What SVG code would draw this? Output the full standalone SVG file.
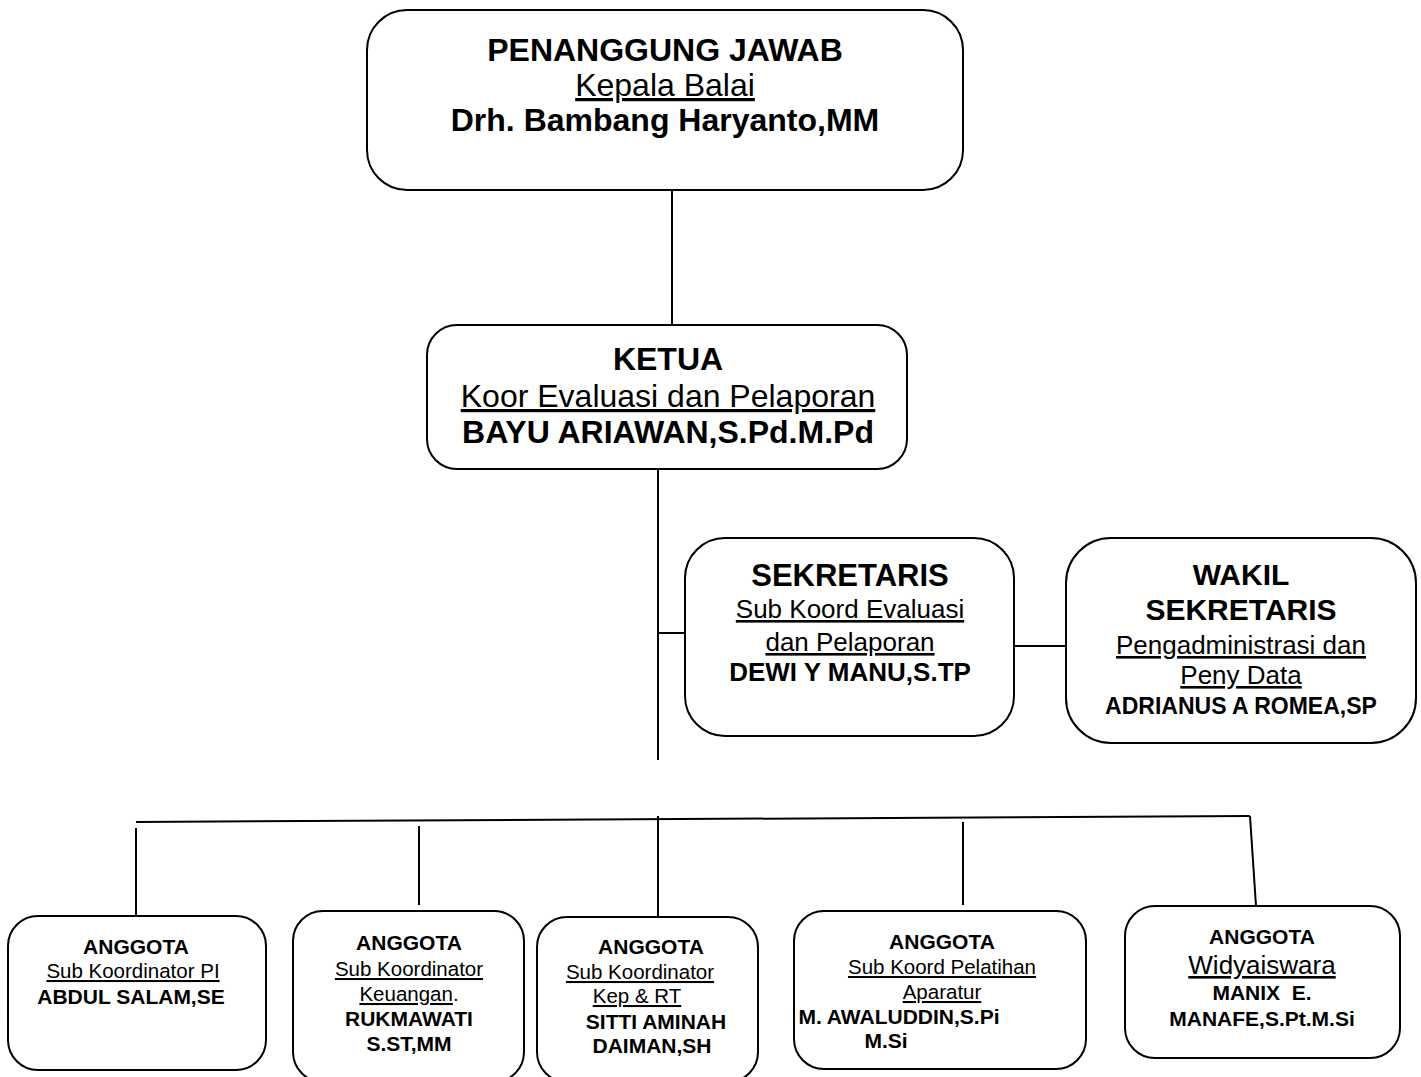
<svg xmlns="http://www.w3.org/2000/svg" width="1421" height="1077" viewBox="0 0 1421 1077">
<style>
.box{fill:#fff;stroke:#000;stroke-width:2}
.ln{stroke:#000;stroke-width:2;fill:none}
text{font-family:"Liberation Sans",Arial,sans-serif;fill:#000;text-anchor:middle}
.b{font-weight:bold}
.u{text-decoration:underline}
</style>
<rect width="1421" height="1077" fill="#fff"/>
<g id="connectors">
<line class="ln" x1="672" y1="190" x2="672" y2="325"/>
<line class="ln" x1="658" y1="469" x2="658" y2="760"/>
<line class="ln" x1="658" y1="633" x2="685" y2="633"/>
<line class="ln" x1="1014" y1="646" x2="1066" y2="646"/>
<line class="ln" x1="136" y1="822" x2="1250" y2="816"/>
<line class="ln" x1="136" y1="828" x2="136" y2="916"/>
<line class="ln" x1="419" y1="826" x2="419" y2="905"/>
<line class="ln" x1="658" y1="816" x2="658" y2="917"/>
<line class="ln" x1="963" y1="822" x2="963" y2="905"/>
<line class="ln" x1="1250" y1="816" x2="1256" y2="906"/>
</g>
<g id="penanggung-jawab">
<rect class="box" x="367" y="10" width="596" height="180" rx="40"/>
<text x="665" y="61" font-size="32" class="b">PENANGGUNG JAWAB</text>
<text x="665" y="96" font-size="32" class="u">Kepala Balai</text>
<text x="665" y="131" font-size="32" class="b">Drh. Bambang Haryanto,MM</text>
</g>
<g id="ketua">
<rect class="box" x="427" y="325" width="480" height="144" rx="30"/>
<text x="668" y="370" font-size="32" class="b">KETUA</text>
<text x="668" y="407" font-size="32" class="u">Koor Evaluasi dan Pelaporan</text>
<text x="668" y="443" font-size="32" class="b">BAYU ARIAWAN,S.Pd.M.Pd</text>
</g>
<g id="sekretaris">
<rect class="box" x="685" y="538" width="329" height="198" rx="40"/>
<text x="850" y="586" font-size="31" class="b">SEKRETARIS</text>
<text x="850" y="618" font-size="26" class="u">Sub Koord Evaluasi</text>
<text x="850" y="651" font-size="26" class="u">dan Pelaporan</text>
<text x="850" y="681" font-size="26" class="b">DEWI Y MANU,S.TP</text>
</g>
<g id="wakil-sekretaris">
<rect class="box" x="1066" y="538" width="350" height="205" rx="45"/>
<text x="1241" y="585" font-size="30" class="b">WAKIL</text>
<text x="1241" y="620" font-size="30" class="b">SEKRETARIS</text>
<text x="1241" y="654" font-size="26" class="u">Pengadministrasi dan</text>
<text x="1241" y="684" font-size="26" class="u">Peny Data</text>
<text x="1241" y="714" font-size="23" class="b">ADRIANUS A ROMEA,SP</text>
</g>
<g id="anggota-1">
<rect class="box" x="8" y="916" width="258" height="154" rx="30"/>
<text x="136" y="954" font-size="21" class="b">ANGGOTA</text>
<text x="133" y="978" font-size="20.5" class="u">Sub Koordinator PI</text>
<text x="131" y="1004" font-size="21" class="b">ABDUL SALAM,SE</text>
</g>
<g id="anggota-2">
<rect class="box" x="293" y="911" width="231" height="171" rx="30"/>
<text x="409" y="950" font-size="21" class="b">ANGGOTA</text>
<text x="409" y="976" font-size="20.5" class="u">Sub Koordinator</text>
<text x="409" y="1001" font-size="20.5"><tspan class="u">Keuangan</tspan>.</text>
<text x="409" y="1026" font-size="21" class="b">RUKMAWATI</text>
<text x="409" y="1051" font-size="21" class="b">S.ST,MM</text>
</g>
<g id="anggota-3">
<rect class="box" x="537" y="917" width="221" height="165" rx="30"/>
<text x="651" y="954" font-size="21" class="b">ANGGOTA</text>
<text x="640" y="979" font-size="20.5" class="u">Sub Koordinator</text>
<text x="637" y="1003" font-size="20.5" class="u">Kep &amp; RT</text>
<text x="656" y="1029" font-size="21" class="b">SITTI AMINAH</text>
<text x="652" y="1053" font-size="21" class="b">DAIMAN,SH</text>
</g>
<g id="anggota-4">
<rect class="box" x="794" y="911" width="292" height="158" rx="30"/>
<text x="942" y="949" font-size="21" class="b">ANGGOTA</text>
<text x="942" y="974" font-size="20.5" class="u">Sub Koord Pelatihan</text>
<text x="942" y="999" font-size="20.5" class="u">Aparatur</text>
<text x="899" y="1024" font-size="21" class="b">M. AWALUDDIN,S.Pi</text>
<text x="886" y="1048" font-size="21" class="b">M.Si</text>
</g>
<g id="anggota-5">
<rect class="box" x="1125" y="906" width="275" height="152" rx="30"/>
<text x="1262" y="944" font-size="21" class="b">ANGGOTA</text>
<text x="1262" y="974" font-size="26" class="u">Widyaiswara</text>
<text x="1262" y="1000" font-size="21" class="b" xml:space="preserve">MANIX  E.</text>
<text x="1262" y="1026" font-size="21" class="b">MANAFE,S.Pt.M.Si</text>
</g>
</svg>
